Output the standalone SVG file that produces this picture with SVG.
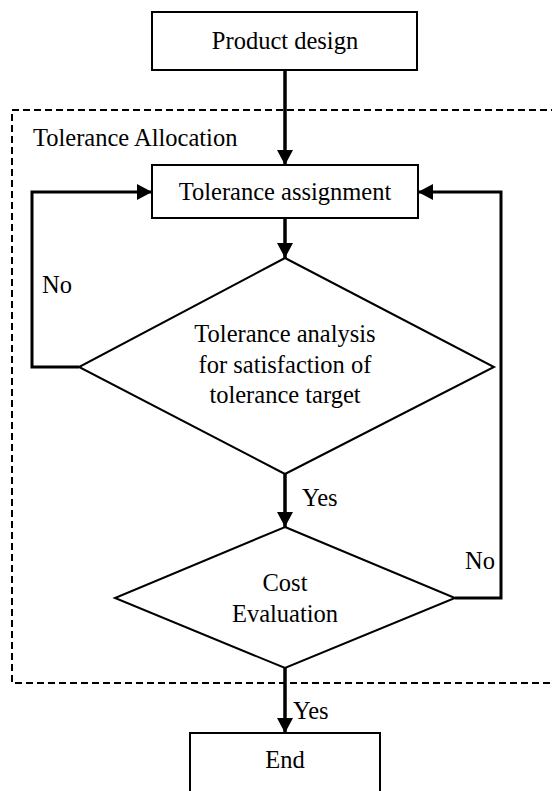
<svg xmlns="http://www.w3.org/2000/svg" width="552" height="791" viewBox="0 0 552 791">
  <defs>
    <marker id="arrowBig" viewBox="0 0 15 16" refX="15" refY="8" markerWidth="15" markerHeight="16" markerUnits="userSpaceOnUse" orient="auto">
      <path d="M0,0 L15,8 L0,16 Z" fill="#000"/>
    </marker>
  </defs>
  <style>
    .box { fill: #fff; stroke: #000; stroke-width: 2; }
    .dec { fill: #fff; stroke: #000; stroke-width: 2; }
    .frame { fill: none; stroke: #000; stroke-width: 2; stroke-dasharray: 7 4; }
    .flow { fill: none; stroke: #000; stroke-width: 3.5; }
    .loop { fill: none; stroke: #000; stroke-width: 3; }
    .t { font-family: 'Liberation Serif', 'DejaVu Serif', serif; font-size: 24.5px; fill: #000; }
    .c { text-anchor: middle; }
  </style>

  <rect width="552" height="791" fill="#fff"/>

  <!-- Tolerance allocation frame (right edge runs off the page) -->
  <g id="frame">
    <rect class="frame" x="12" y="110" width="560" height="573"/>
    <text class="t" x="33" y="146">Tolerance Allocation</text>
  </g>

  <!-- connectors -->
  <g id="connectors">
    <line class="flow" x1="285" y1="70" x2="285" y2="165" marker-end="url(#arrowBig)"/>
    <line class="flow" x1="285" y1="218" x2="285" y2="258" marker-end="url(#arrowBig)"/>
    <line class="flow" x1="285" y1="474" x2="285" y2="527" marker-end="url(#arrowBig)"/>
    <line class="flow" x1="285" y1="668" x2="285" y2="733" marker-end="url(#arrowBig)"/>
    <polyline class="loop" points="79,367 32,367 32,192 152,192" marker-end="url(#arrowBig)"/>
    <polyline class="loop" points="455,598 501,598 501,192 418,192" marker-end="url(#arrowBig)"/>
    <text class="t" x="42" y="293">No</text>
    <text class="t" x="302" y="506">Yes</text>
    <text class="t" x="465" y="569">No</text>
    <text class="t" x="293" y="719">Yes</text>
  </g>

  <g id="product-design">
    <rect class="box" x="152" y="12" width="265" height="58"/>
    <text class="t c" x="285" y="49">Product design</text>
  </g>

  <g id="tolerance-assignment">
    <rect class="box" x="152" y="165" width="266" height="53"/>
    <text class="t c" x="285" y="200">Tolerance assignment</text>
  </g>

  <g id="tolerance-analysis">
    <polygon class="dec" points="285,258 494,367 285,474 79,367"/>
    <text class="t c" x="285" y="342">Tolerance analysis</text>
    <text class="t c" x="285" y="373">for satisfaction of</text>
    <text class="t c" x="285" y="403">tolerance target</text>
  </g>

  <g id="cost-evaluation">
    <polygon class="dec" points="285,527 455,598 285,668 115,598"/>
    <text class="t c" x="285" y="591">Cost</text>
    <text class="t c" x="285" y="622">Evaluation</text>
  </g>

  <g id="end">
    <rect class="box" x="190" y="733" width="190" height="70"/>
    <text class="t c" x="285" y="768">End</text>
  </g>
</svg>
